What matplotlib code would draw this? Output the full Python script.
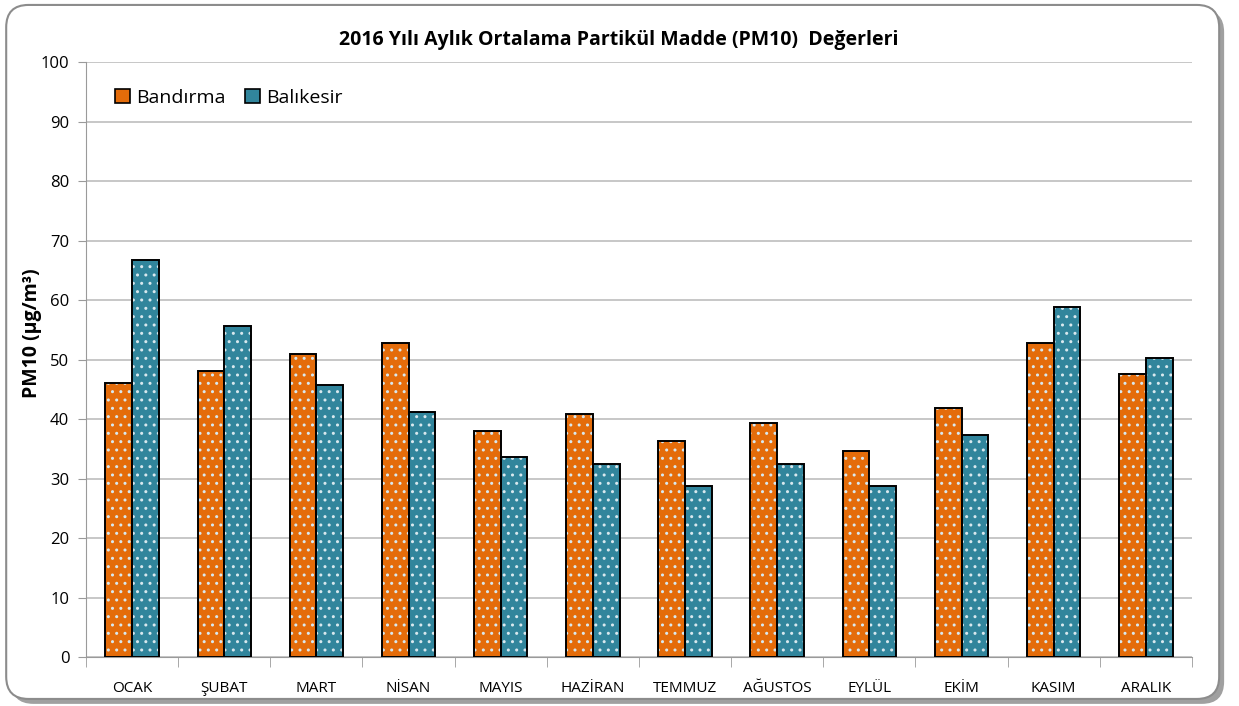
import numpy as np
import matplotlib
matplotlib.use("Agg")
import matplotlib.pyplot as plt
from matplotlib.patches import FancyBboxPatch, Patch

months = ["OCAK", "ŞUBAT", "MART", "NİSAN", "MAYIS", "HAZİRAN",
          "TEMMUZ", "AĞUSTOS", "EYLÜL", "EKİM", "KASIM", "ARALIK"]
bandirma = [46.0, 48.0, 50.9, 52.8, 38.0, 40.8, 36.3, 39.3, 34.6, 41.8, 52.8, 47.6]
balikesir = [66.7, 55.6, 45.7, 41.2, 33.6, 32.5, 28.8, 32.5, 28.8, 37.4, 58.9, 50.3]

ORANGE = "#E46C0A"
TEAL = "#31859C"

plt.rcParams['font.family'] = ['Open Sans', 'DejaVu Sans']
plt.rcParams['hatch.linewidth'] = 1.0

fig = plt.figure(figsize=(12.39, 7.06), dpi=100)

# rounded frame with shadow
shadow = FancyBboxPatch((0.009, 0.003), 0.979, 0.983, boxstyle="round,pad=0,rounding_size=0.018",
                        transform=fig.transFigure, facecolor="#a0a0a0", edgecolor="none",
                        mutation_aspect=1239 / 706, zorder=-3)
frame = FancyBboxPatch((0.005, 0.01), 0.979, 0.983, boxstyle="round,pad=0,rounding_size=0.018",
                       transform=fig.transFigure, facecolor="white", edgecolor="#8c8c8c",
                       linewidth=1.5, mutation_aspect=1239 / 706, zorder=-2)
fig.patches.extend([shadow, frame])

ax = fig.add_axes([0.0694, 0.0694, 0.8926, 0.8426])
ax.set_facecolor("none")

x = np.arange(len(months))
w = 0.29
handles = []
for vals, col, off, lab in [(bandirma, ORANGE, -w / 2, "Bandırma"), (balikesir, TEAL, w / 2, "Balıkesir")]:
    ax.bar(x + off, vals, w, color=col, hatch="..", edgecolor="#d8e8ee", linewidth=0, zorder=3)
    ax.bar(x + off, vals, w, fill=False, edgecolor="black", linewidth=1.4, zorder=4)
    handles.append(Patch(facecolor=col, edgecolor="black", linewidth=1.2, label=lab))

ax.set_xlim(-0.5, len(months) - 0.5)
ax.set_ylim(0, 100)
ax.set_yticks(range(0, 101, 10))
ax.yaxis.grid(True, color="#bdbdbd", linewidth=1.2)
ax.set_axisbelow(True)

ax.set_xticks(x)
ax.set_xticklabels(months, fontsize=11)
ax.tick_params(axis="x", length=0, pad=17)
ax.set_xticks(np.arange(-0.5, len(months)), minor=True)
ax.tick_params(axis="x", which="minor", length=7, color="#9a9a9a")
ax.tick_params(axis="y", labelsize=12, length=6, color="#9a9a9a", pad=6)

for s in ["top", "right"]:
    ax.spines[s].set_visible(False)
ax.spines["left"].set_color("#9a9a9a")
ax.spines["bottom"].set_color("#9a9a9a")

ax.set_ylabel("PM10 (µg/m³)", fontsize=14, fontweight="bold")
ax.yaxis.set_label_coords(-0.04, 0.545)

fig.text(0.499, 0.944, "2016 Yılı Aylık Ortalama Partikül Madde (PM10)  Değerleri",
         ha="center", va="center", fontsize=14, fontweight="bold")

ax.legend(handles=handles, loc="upper left", bbox_to_anchor=(0.01, 0.985), ncol=2, frameon=False,
          fontsize=14, handlelength=0.8, handleheight=0.8, handletextpad=0.3, columnspacing=1.0)

fig.savefig("out.png", dpi=100)
